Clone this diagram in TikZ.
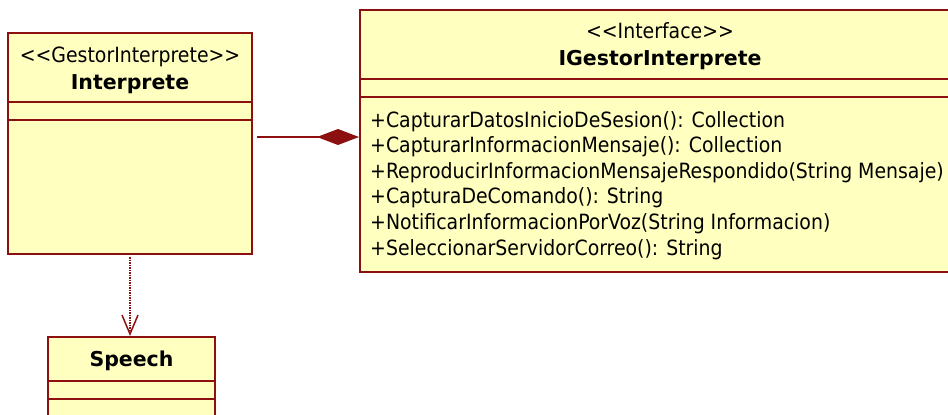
\documentclass[tikz,border=0pt]{standalone}
\usepackage{fontspec}
\setmainfont{DejaVu Sans Condensed}
\newfontfamily\namefont{DejaVu Sans}
\usetikzlibrary{arrows.meta,positioning}
\definecolor{umlred}{RGB}{140,16,16}
\definecolor{umlfill}{RGB}{255,255,192}

\begin{document}
\begin{tikzpicture}[x=1pt,y=1pt,
  classbox/.style={draw=umlred,fill=umlfill,line width=2pt,inner sep=0pt},
  part/.style={draw=umlred,line width=2pt},
  stereo/.style={font=\fontsize{21}{25}\selectfont,inner sep=0pt,anchor=base},
  cname/.style={font=\namefont\fontsize{20.5}{25}\selectfont\bfseries,inner sep=0pt,anchor=base},
  method/.style={font=\fontsize{21}{25}\selectfont,inner sep=0pt,anchor=base west},
  composition/.style={umlred,line width=1.5pt,shorten <=4pt,-{Diamond[length=42pt,width=16pt]}},
  dependency/.style={umlred,line width=1.5pt,densely dotted,shorten <=2pt,-{Straight Barb[length=19pt,width=16pt,line width=1.5pt]}}]
\useasboundingbox (0,0) rectangle (948,-415);
% classes
\node[classbox,minimum width=244pt,minimum height=221pt] (interprete) at (130,-143.5) {};
\node[classbox,minimum width=600pt,minimum height=262pt] (iface) at (660,-141) {};
\node[classbox,minimum width=167pt,minimum height=103pt] (speech) at (131.5,-388.5) {};
\foreach \c/\a/\b in {interprete/70/88,iface/70/88,speech/45/63}{
  \draw[part] ([yshift=-\a pt]\c.north west) -- ([yshift=-\a pt]\c.north east);
  \draw[part] ([yshift=-\b pt]\c.north west) -- ([yshift=-\b pt]\c.north east);
}
% headers
\node[stereo] (interpretestereo) at ([yshift=-30pt]interprete.north) {<\kern0pt<GestorInterprete>\kern0pt>};
\node[cname] (interpretename) at ([yshift=-57pt]interprete.north) {Interprete};
\node[stereo] (ifacestereo) at ([yshift=-29pt]iface.north) {<\kern0pt<Interface>\kern0pt>};
\node[cname] (ifacename) at ([yshift=-56pt]iface.north) {IGestorInterprete};
\node[cname] (speechname) at ([yshift=-30pt]speech.north) {Speech};
% operations
\foreach \m [count=\i from 0] in {+CapturarDatosInicioDeSesion(): Collection,
  +CapturarInformacionMensaje(): Collection,
  +ReproducirInformacionMensajeRespondido(String Mensaje),
  +CapturaDeComando(): String,
  +NotificarInformacionPorVoz(String Informacion),
  +SeleccionarServidorCorreo(): String}
  \node[method] (method\i) at (370,{-127-25.6*\i}) {\m};
% relations
\draw[composition] ([yshift=6.5pt]interprete.east) -- ([yshift=6.5pt]interprete.east -| iface.west);
\draw[dependency] (interprete.south) -- (interprete.south |- speech.north);
\end{tikzpicture}
\end{document}
